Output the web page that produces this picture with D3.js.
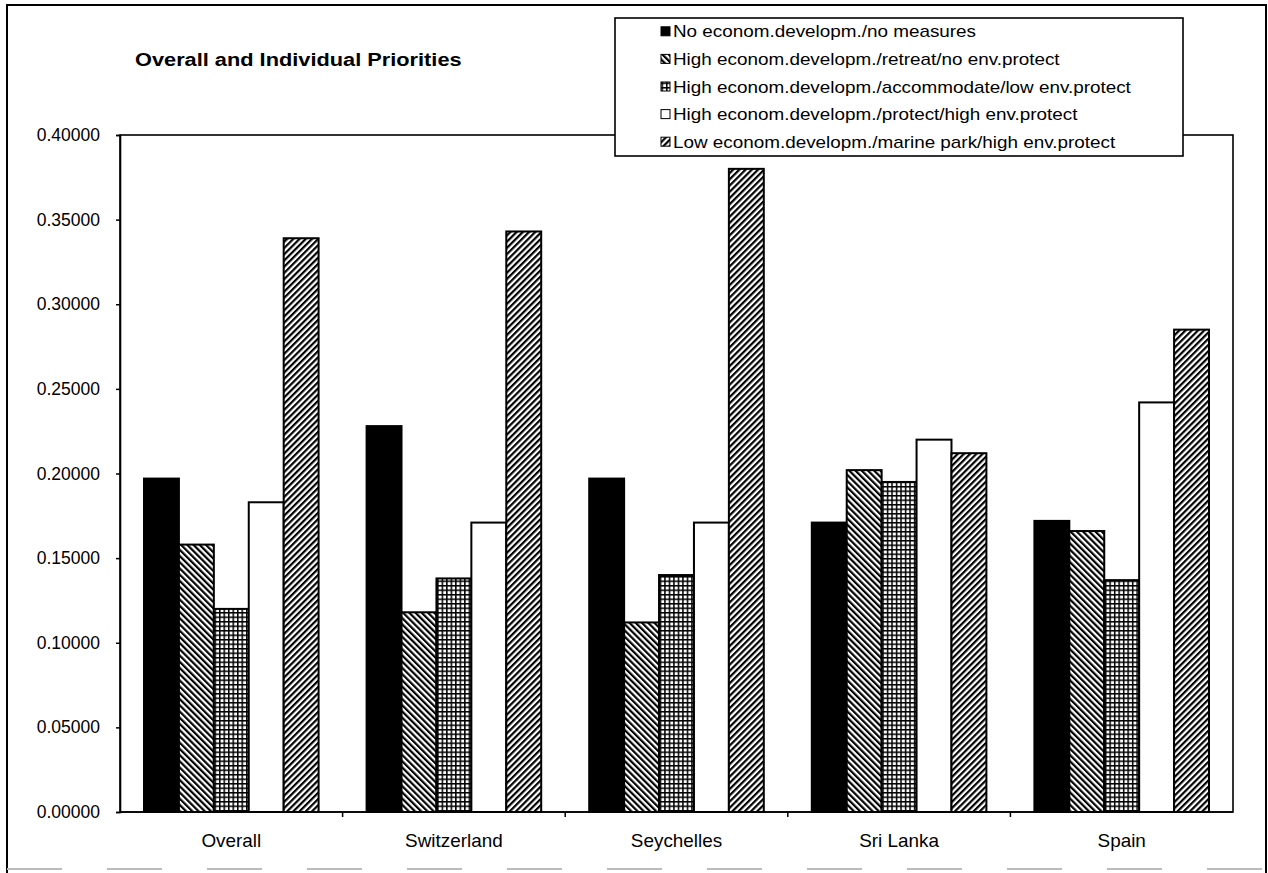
<!DOCTYPE html>
<html>
<head>
<meta charset="utf-8">
<script src="https://cdn.jsdelivr.net/npm/d3@7/dist/d3.min.js"></script>
<style>
  html, body { margin: 0; padding: 0; background: #fff; }
  svg { display: block; }
  text { font-family: "Liberation Sans", Arial, sans-serif; fill: #000; }
</style>
</head>
<body>
<svg id="chart" width="1268" height="873"></svg>
<script>
// ---- data ----
const categories = ["Overall", "Switzerland", "Seychelles", "Sri Lanka", "Spain"];
const seriesNames = [
  "No econom.developm./no measures",
  "High econom.developm./retreat/no env.protect",
  "High econom.developm./accommodate/low env.protect",
  "High econom.developm./protect/high env.protect",
  "Low econom.developm./marine park/high env.protect"
];
const noMeasures   = [0.197, 0.228, 0.197, 0.171, 0.172];
const retreat      = [0.158, 0.118, 0.112, 0.202, 0.166];
const accommodate  = [0.120, 0.138, 0.140, 0.195, 0.137];
const protect      = [0.183, 0.171, 0.171, 0.220, 0.242];
const marinePark   = [0.339, 0.343, 0.380, 0.212, 0.285];
const seriesValues = [noMeasures, retreat, accommodate, protect, marinePark];
const yTicks = [0, 0.05, 0.10, 0.15, 0.20, 0.25, 0.30, 0.35, 0.40];
const title = "Overall and Individual Priorities";

// ---- layout ----
const W = 1268, H = 873;
const plot = { left: 120, right: 1233, top: 135, bottom: 812 };
const svg = d3.select("#chart");

const defs = svg.append("defs");
function hatch(id, angle) {
  const p = defs.append("pattern").attr("id", id).attr("patternUnits", "userSpaceOnUse")
    .attr("width", 4.4).attr("height", 4.4).attr("patternTransform", `rotate(${angle})`);
  p.append("rect").attr("width", 4.4).attr("height", 4.4).attr("fill", "#fff");
  p.append("line").attr("x1", 1.1).attr("y1", 0).attr("x2", 1.1).attr("y2", 4.4)
    .attr("stroke", "#000").attr("stroke-width", 2.2);
}
hatch("hatchBack", -45);
hatch("hatchFwd", 45);
const grid = defs.append("pattern").attr("id", "grid").attr("patternUnits", "userSpaceOnUse")
  .attr("width", 4.5).attr("height", 4.5);
grid.append("rect").attr("width", 4.5).attr("height", 4.5).attr("fill", "#fff");
grid.append("rect").attr("width", 4.5).attr("height", 1.5).attr("fill", "#000");
grid.append("rect").attr("width", 1.5).attr("height", 4.5).attr("fill", "#000");

const fills = ["#000", "url(#hatchBack)", "url(#grid)", "#fff", "url(#hatchFwd)"];

svg.append("rect").attr("width", W).attr("height", H).attr("fill", "#fff");

// outer frame (left, top, right dark; bottom faded)
const frame = svg.append("g").attr("stroke", "#000").attr("stroke-width", 2).attr("fill", "none");
frame.append("path").attr("d", "M7,873 L7,5 L1266,5 L1266,873");
svg.append("line").attr("x1", 7).attr("x2", 1266).attr("y1", 869).attr("y2", 869)
  .attr("stroke", "#bbb").attr("stroke-width", 2).attr("stroke-dasharray", "55,45");

// scales
const y = d3.scaleLinear().domain([0, 0.4]).range([plot.bottom, plot.top]);
const x0 = d3.scaleBand().domain(categories).range([plot.left, plot.right]).paddingInner(0).paddingOuter(0);
const x1 = d3.scaleBand().domain(d3.range(seriesNames.length))
  .range([24, x0.bandwidth() - 24]).paddingInner(0).paddingOuter(0);

// plot frame
svg.append("rect").attr("x", plot.left).attr("y", plot.top)
  .attr("width", plot.right - plot.left).attr("height", plot.bottom - plot.top)
  .attr("fill", "none").attr("stroke", "#000").attr("stroke-width", 1.6);

// bars
const groups = svg.append("g").selectAll("g").data(categories).join("g")
  .attr("transform", d => `translate(${x0(d)},0)`);
groups.selectAll("rect").data((c, ci) => seriesValues.map((s, si) => ({ si, v: s[ci] })))
  .join("rect")
  .attr("x", d => x1(d.si))
  .attr("width", x1.bandwidth())
  .attr("y", d => y(d.v))
  .attr("height", d => y(0) - y(d.v))
  .attr("fill", d => fills[d.si])
  .attr("stroke", "#000").attr("stroke-width", 2);

// y axis
const yAxis = d3.axisLeft(y).tickValues(yTicks).tickFormat(d3.format(".5f")).tickSize(4).tickPadding(16);
const ya = svg.append("g").attr("transform", `translate(${plot.left},0)`).call(yAxis);
ya.select(".domain").attr("stroke", "#000").attr("stroke-width", 1.6);
ya.selectAll(".tick line").attr("stroke", "#000").attr("stroke-width", 1.5);
ya.selectAll(".tick text").attr("font-size", 17.5).attr("font-family", "Liberation Sans, Arial, sans-serif").attr("fill", "#000");

// x axis with ticks at group boundaries
const xa = svg.append("g").attr("transform", `translate(0,${plot.bottom})`);
xa.append("line").attr("x1", plot.left).attr("x2", plot.right).attr("stroke", "#000").attr("stroke-width", 1.6);
xa.selectAll("line.tk").data(categories.slice(1)).join("line").attr("class", "tk")
  .attr("x1", d => x0(d)).attr("x2", d => x0(d)).attr("y1", 0).attr("y2", 5)
  .attr("stroke", "#000").attr("stroke-width", 1.5);
xa.selectAll("text").data(categories).join("text")
  .attr("transform", d => `translate(${x0(d) + x0.bandwidth() / 2},35) scale(1.05,1)`)
  .attr("text-anchor", "middle").attr("font-size", 18).text(d => d);

// title
svg.append("text").attr("transform", "translate(135,66) scale(1.21,1)")
  .attr("font-size", 18).attr("font-weight", "bold").text(title);

// legend
const lg = svg.append("g");
lg.append("rect").attr("x", 615).attr("y", 18).attr("width", 568).attr("height", 138)
  .attr("fill", "#fff").attr("stroke", "#000").attr("stroke-width", 1.6);
const rowH = 27.6;
const items = lg.selectAll("g.item").data(seriesNames).join("g").attr("class", "item")
  .attr("transform", (d, i) => `translate(0,${18 + rowH / 2 + i * rowH})`);
items.append("rect").attr("x", 661).attr("y", -5).attr("width", 9).attr("height", 9)
  .attr("fill", (d, i) => fills[i]).attr("stroke", "#000").attr("stroke-width", 1);
items.append("text").attr("transform", "translate(673,5.5) scale(1.18,1)")
  .attr("font-size", 16).text(d => d);
</script>
</body>
</html>
